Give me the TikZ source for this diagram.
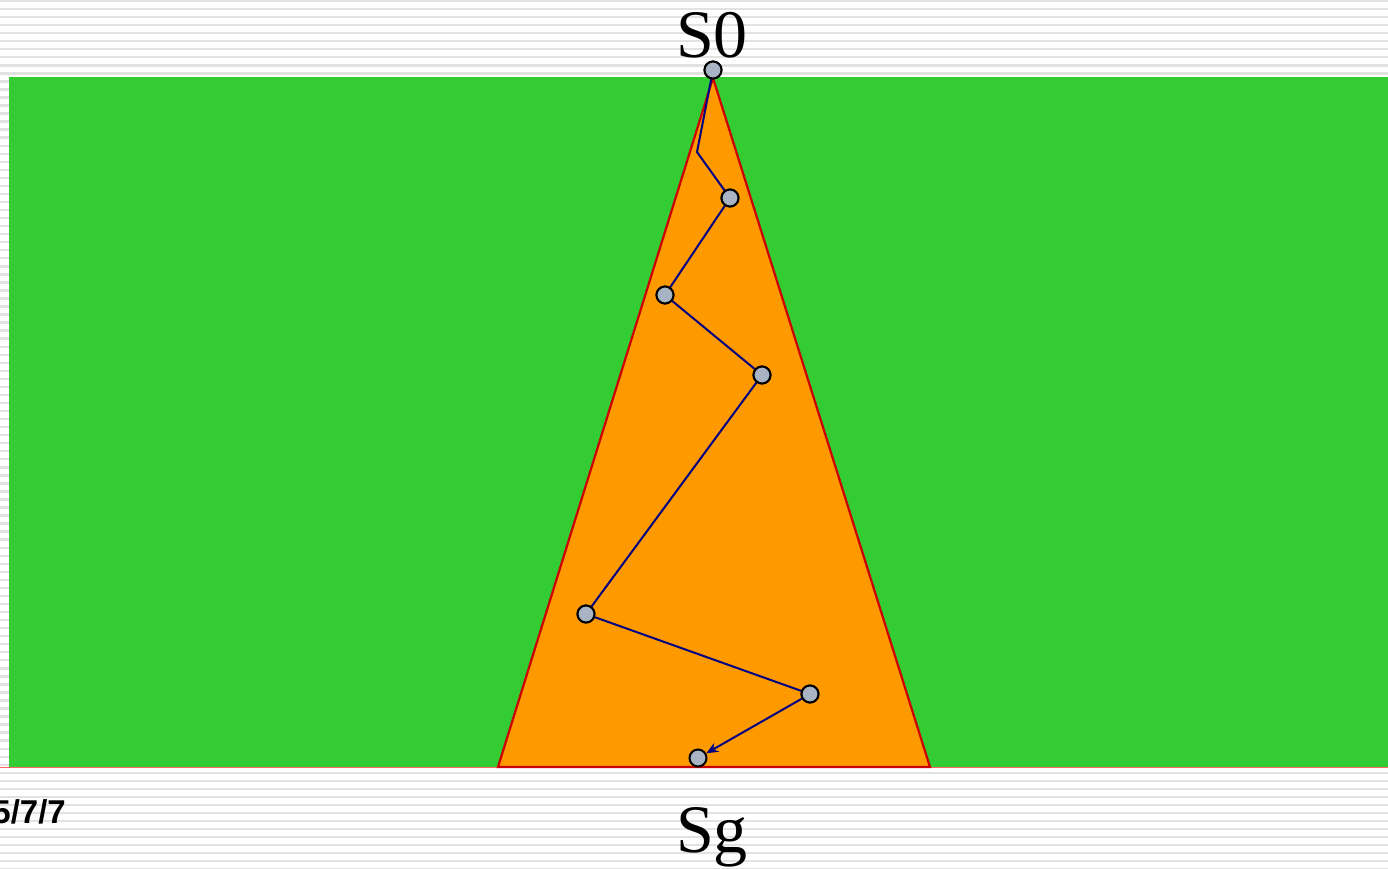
\documentclass[tikz,border=0pt]{standalone}
\usepackage{fontspec}
\setmainfont{Liberation Serif}
\newfontfamily\labsans{Liberation Sans}
\usetikzlibrary{arrows.meta}
\definecolor{bggreen}{RGB}{51,204,51}
\definecolor{triorange}{RGB}{255,153,0}
\definecolor{trired}{RGB}{204,0,0}
\definecolor{pathnavy}{RGB}{0,0,128}
\definecolor{dotfill}{RGB}{168,180,196}
\definecolor{stripegray}{RGB}{226,226,226}
\tikzset{
  stripe/.style={draw=stripegray, line width=2.4pt},
  waypoint/.style={circle, draw=black, line width=2pt, fill=dotfill, minimum size=17pt, inner sep=0pt},
  route/.style={draw=pathnavy, line width=2pt},
  bigtext/.style={font=\fontsize{68}{68}\selectfont, text=black, inner sep=0pt},
}
\begin{document}
\begin{tikzpicture}[x=1pt,y=-1pt]
\useasboundingbox (0,0) rectangle (1388,868);
\fill[white] (0,0) rectangle (1388,868);
\foreach \i in {0,...,108}{
  \draw[stripe] (0,{\i*8.04+1}) -- (1388,{\i*8.04+1});
}
\fill[bggreen] (9,77) rectangle (1388,767);
\draw[red!60, line width=1pt] (0,767) -- (1388,767);
\filldraw[fill=triorange, draw=trired, line width=2.2pt] (713,78) -- (930,767) -- (498,767) -- cycle;
\node[waypoint] (s0) at (713,70) {};
\coordinate (k) at (697,152);
\node[waypoint] (c1) at (730,198) {};
\node[waypoint] (c2) at (665,295) {};
\node[waypoint] (c3) at (762,375) {};
\node[waypoint] (c4) at (586,614) {};
\node[waypoint] (c5) at (810,694) {};
\node[waypoint] (c6) at (698,758) {};
\draw[route] (s0) -- (k) -- (c1);
\draw[route] (c1) -- (c2);
\draw[route] (c2) -- (c3);
\draw[route] (c3) -- (c4);
\draw[route] (c4) -- (c5);
\draw[route, -{Stealth[length=12pt,width=10pt]}] (c5) -- (c6);
\node[waypoint] at (s0) {};
\node[waypoint] at (c1) {};
\node[waypoint] at (c2) {};
\node[waypoint] at (c3) {};
\node[waypoint] at (c4) {};
\node[waypoint] at (c5) {};
\node[bigtext, anchor=base] (t0) at (712,57) {S0};
\node[bigtext, anchor=base] (tg) at (712,852) {Sg};
\node[font=\labsans\bfseries\fontsize{33}{33}\selectfont, anchor=base east, inner sep=0pt] (date) at (66,823) {5/7/7};
\end{tikzpicture}
\end{document}
